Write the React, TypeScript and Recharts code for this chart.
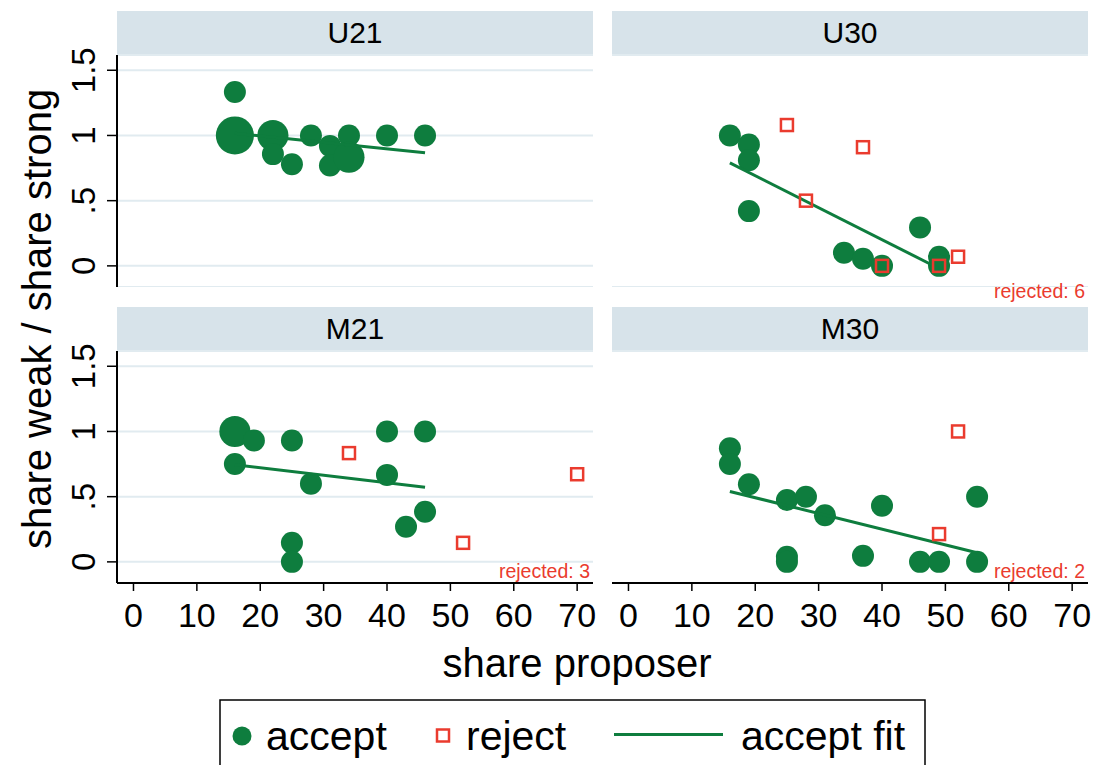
import React from 'react';
import { ScatterChart, Scatter, XAxis, YAxis, CartesianGrid } from 'recharts';

const FONT = '"Liberation Sans", Arial, Helvetica, sans-serif';
const GREEN = '#0e7d3e';
const RED = '#ea3b2e';
const HEADER_BG = '#d7e3ea';
const GRID = '#e1ebf0';

const X_TICKS = [0, 10, 20, 30, 40, 50, 60, 70];
const Y_TICKS = [0, 0.5, 1, 1.5];
const X_DOMAIN = [-2.6, 72.5];
const Y_DOMAIN = [-0.162, 1.617];

// n = number of identical offers (marker weight)
const u21Accept = [
  { x: 16, y: 1.333, n: 1 },
  { x: 16, y: 1, n: 3 },
  { x: 22, y: 1, n: 2 },
  { x: 22, y: 0.857, n: 1 },
  { x: 25, y: 0.78, n: 1 },
  { x: 28, y: 1, n: 1 },
  { x: 31, y: 0.92, n: 1 },
  { x: 31, y: 0.77, n: 1 },
  { x: 34, y: 1, n: 1 },
  { x: 34, y: 0.833, n: 2 },
  { x: 40, y: 1, n: 1 },
  { x: 46, y: 1, n: 1 },
];
const u21Reject: { x: number; y: number }[] = [];
const u21Fit = [{ x: 16, y: 1.017 }, { x: 46, y: 0.867 }];

const u30Accept = [
  { x: 16, y: 1, n: 1 },
  { x: 19, y: 0.93, n: 1 },
  { x: 19, y: 0.81, n: 1 },
  { x: 19, y: 0.42, n: 1 },
  { x: 34, y: 0.1, n: 1 },
  { x: 37, y: 0.054, n: 1 },
  { x: 40, y: 0, n: 1 },
  { x: 46, y: 0.295, n: 1 },
  { x: 49, y: 0.07, n: 1 },
  { x: 49, y: 0, n: 1 },
];
const u30Reject = [
  { x: 25, y: 1.08 },
  { x: 37, y: 0.91 },
  { x: 28, y: 0.5 },
  { x: 40, y: 0 },
  { x: 49, y: 0 },
  { x: 52, y: 0.07 },
];
const u30Fit = [{ x: 16, y: 0.79 }, { x: 49, y: -0.02 }];

const m21Accept = [
  { x: 16, y: 1, n: 2 },
  { x: 19, y: 0.93, n: 1 },
  { x: 16, y: 0.75, n: 1 },
  { x: 25, y: 0.93, n: 1 },
  { x: 28, y: 0.6, n: 1 },
  { x: 25, y: 0.146, n: 1 },
  { x: 25, y: 0, n: 1 },
  { x: 40, y: 1, n: 1 },
  { x: 40, y: 0.667, n: 1 },
  { x: 46, y: 1, n: 1 },
  { x: 46, y: 0.385, n: 1 },
  { x: 43, y: 0.27, n: 1 },
];
const m21Reject = [
  { x: 34, y: 0.834 },
  { x: 52, y: 0.146 },
  { x: 70, y: 0.672 },
];
const m21Fit = [{ x: 16, y: 0.744 }, { x: 46, y: 0.572 }];

const m30Accept = [
  { x: 16, y: 0.872, n: 1 },
  { x: 16, y: 0.75, n: 1 },
  { x: 19, y: 0.595, n: 1 },
  { x: 25, y: 0.475, n: 1 },
  { x: 28, y: 0.5, n: 1 },
  { x: 31, y: 0.357, n: 1 },
  { x: 40, y: 0.43, n: 1 },
  { x: 37, y: 0.046, n: 1 },
  { x: 25, y: 0.04, n: 1 },
  { x: 25, y: 0, n: 1 },
  { x: 46, y: 0, n: 1 },
  { x: 49, y: 0, n: 1 },
  { x: 55, y: 0.5, n: 1 },
  { x: 55, y: 0, n: 1 },
];
const m30Reject = [
  { x: 52, y: 1 },
  { x: 49, y: 0.213 },
];
const m30Fit = [{ x: 16, y: 0.54 }, { x: 55, y: 0.07 }];

const PLOT_W = 476;
const PLOT_H = 232;
const PAD = 22; // room so edge tick labels are not clipped

const panels = [
  { title: 'U21', accept: u21Accept, reject: u21Reject, fit: u21Fit, left: 117, top: 55, showY: true, showX: false },
  { title: 'U30', accept: u30Accept, reject: u30Reject, fit: u30Fit, left: 612, top: 55, showY: false, showX: false },
  { title: 'M21', accept: m21Accept, reject: m21Reject, fit: m21Fit, left: 117, top: 351, showY: true, showX: true },
  { title: 'M30', accept: m30Accept, reject: m30Reject, fit: m30Fit, left: 612, top: 351, showY: false, showX: true },
];

const fmtY = (v: number) => String(v).replace(/^0\./, '.');

const AcceptDot = (p: any) => (
  <circle cx={p.cx} cy={p.cy} r={11 * Math.sqrt(p.payload?.n ?? 1)} fill={GREEN} />
);
const RejectSquare = (p: any) => (
  <rect x={p.cx - 6} y={p.cy - 6} width={12} height={12} fill="none" stroke={RED} strokeWidth={2.5} />
);
const NoDot = () => <g />;

const YTick = (props: any) => {
  const { x, y, payload } = props;
  return (
    <text
      x={x}
      y={y}
      transform={`rotate(-90 ${x} ${y})`}
      textAnchor="middle"
      fontSize={33}
      fontFamily={FONT}
      fill="#000"
    >
      {fmtY(payload.value)}
    </text>
  );
};

const Panel = ({ title, accept, reject, fit, left, top, showY, showX }: any) => {
  const yw = showY ? 117 : 0;
  const xh = showX ? 60 : 0;
  return (
    <>
      <div
        style={{
          position: 'absolute',
          left,
          top: top - 44,
          width: PLOT_W,
          height: 44,
          background: HEADER_BG,
          display: 'flex',
          alignItems: 'center',
          justifyContent: 'center',
          fontFamily: FONT,
          fontSize: 30,
          color: '#000',
        }}
      >
        {title}
      </div>
      <div style={{ position: 'absolute', left: left - yw, top: top - PAD }}>
        <ScatterChart
          width={PLOT_W + yw + PAD}
          height={PLOT_H + xh + PAD}
          margin={{ top: PAD, right: PAD, bottom: 0, left: 0 }}
        >
          <CartesianGrid vertical={false} stroke={GRID} strokeWidth={2} />
          <XAxis
            type="number"
            dataKey="x"
            domain={X_DOMAIN}
            ticks={X_TICKS}
            allowDataOverflow
            hide={!showX}
            height={xh}
            axisLine={{ stroke: '#000', strokeWidth: 2 }}
            tickLine={{ stroke: '#000', strokeWidth: 1.5 }}
            tickSize={8}
            tickMargin={12}
            tick={{ fontSize: 34, fill: '#000', fontFamily: FONT }}
          />
          <YAxis
            type="number"
            dataKey="y"
            domain={Y_DOMAIN}
            ticks={Y_TICKS}
            allowDataOverflow
            width={yw}
            axisLine={showY ? { stroke: '#000', strokeWidth: 2 } : false}
            tickLine={showY ? { stroke: '#000', strokeWidth: 1.5 } : false}
            tickSize={10}
            tickMargin={12}
            tick={showY ? <YTick /> : false}
          />
          <Scatter data={accept} shape={AcceptDot} isAnimationActive={false} />
          <Scatter
            data={fit}
            shape={NoDot}
            line={{ stroke: GREEN, strokeWidth: 3 }}
            isAnimationActive={false}
          />
          <Scatter data={reject} shape={RejectSquare} isAnimationActive={false} />
        </ScatterChart>
      </div>
    </>
  );
};

export default function App() {
  return (
    <div
      style={{
        position: 'absolute',
        left: 0,
        top: 0,
        width: 1094,
        height: 765,
        overflow: 'hidden',
        background: '#fff',
        fontFamily: FONT,
      }}
    >
      {panels.map((p) => (
        <Panel key={p.title} {...p} />
      ))}
      <svg
        width={1094}
        height={765}
        style={{ position: 'absolute', left: 0, top: 0, pointerEvents: 'none' }}
        fontFamily={FONT}
      >
        {panels
          .filter((p) => p.reject.length > 0)
          .map((p) => (
            <text
              key={p.title}
              x={p.left + PLOT_W - 3}
              y={p.showX ? p.top + PLOT_H - 5 : p.top + PLOT_H + 11}
              textAnchor="end"
              fontSize={19.5}
              fill={RED}
            >
              {`rejected: ${p.reject.length}`}
            </text>
          ))}
        <text x={577} y={677} textAnchor="middle" fontSize={40} fill="#000">
          share proposer
        </text>
        <text x={51} y={319} transform="rotate(-90 51 319)" textAnchor="middle" fontSize={40} fill="#000">
          share weak / share strong
        </text>
        <rect x={220} y={700} width={705} height={90} fill="none" stroke="#000" strokeWidth={1.5} />
        <circle cx={242} cy={736} r={9.5} fill={GREEN} />
        <text x={266} y={750} fontSize={41} fill="#000">accept</text>
        <rect x={437} y={729.5} width={12} height={12} fill="none" stroke={RED} strokeWidth={2.5} />
        <text x={466} y={750} fontSize={41} fill="#000">reject</text>
        <line x1={614} x2={723} y1={734.5} y2={734.5} stroke={GREEN} strokeWidth={3} />
        <text x={741} y={750} fontSize={41} fill="#000">accept fit</text>
      </svg>
    </div>
  );
}
